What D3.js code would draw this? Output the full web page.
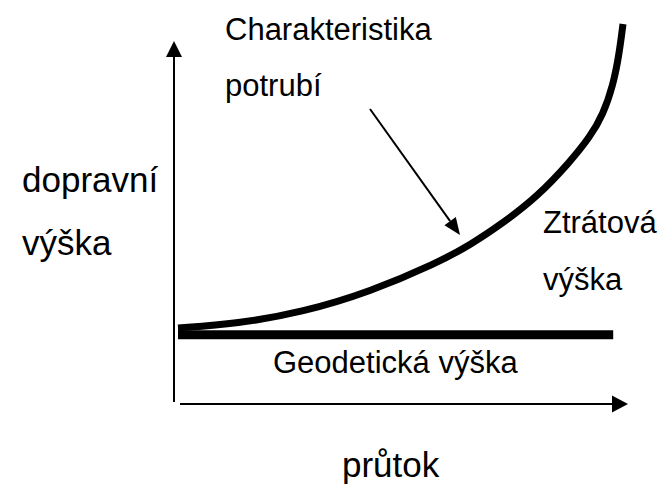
<!DOCTYPE html>
<html>
<head>
<meta charset="utf-8">
<script src="https://cdn.jsdelivr.net/npm/d3@7"></script>
<style>
  html, body { margin: 0; padding: 0; background: #fff; }
  svg { display: block; }
  text { font-family: "Liberation Sans", Arial, sans-serif; fill: #000; }
</style>
</head>
<body>
<script>
// Pipe characteristic: flow (průtok) vs. pumping head (dopravní výška)
const flow = [0, 13.3, 28.1, 43.1, 58.2, 65.6, 73.0, 80.7, 88.1, 92.6, 95.5, 97.8, 99.1, 100];
const head = [20.0, 21.1, 24.2, 29.5, 37.1, 41.8, 47.6, 54.5, 63.7, 70.3, 76.1, 84.0, 91.8, 100];

// Static (geodetic) head, constant over the flow range
const geoFlow = [0, 97.8];
const geoHead = 18.2;

const labels = {
  curve: ["Charakteristika", "potrubí"],
  yAxis: ["dopravní", "výška"],
  loss: ["Ztrátová", "výška"],
  geo: "Geodetická výška",
  xAxis: "průtok"
};

const W = 664, H = 489;
const svg = d3.select("body").append("svg").attr("width", W).attr("height", H);

const x = d3.scaleLinear().domain([0, 100]).range([178, 623]);
const y = d3.scaleLinear().domain([0, 100]).range([404, 24]);

// Axes as plain arrows (no ticks)
const axisX0 = 174;   // vertical axis position
const axisY0 = 404;   // horizontal axis position

svg.append("line")
  .attr("x1", axisX0).attr("y1", 402)
  .attr("x2", axisX0).attr("y2", 54)
  .attr("stroke", "#000").attr("stroke-width", 2);
svg.append("path")
  .attr("d", `M${axisX0},41 L${axisX0 - 8},57 L${axisX0 + 8},57 Z`)
  .attr("fill", "#000");

svg.append("line")
  .attr("x1", 180).attr("y1", axisY0)
  .attr("x2", 614).attr("y2", axisY0)
  .attr("stroke", "#000").attr("stroke-width", 2);
svg.append("path")
  .attr("d", `M628,${axisY0} L612,${axisY0 - 8.5} L612,${axisY0 + 8.5} Z`)
  .attr("fill", "#000");

// Geodetic head line
svg.append("line")
  .attr("x1", x(geoFlow[0])).attr("y1", y(geoHead))
  .attr("x2", x(geoFlow[1])).attr("y2", y(geoHead))
  .attr("stroke", "#000").attr("stroke-width", 9);

// Pipe characteristic curve
const pts = flow.map((q, i) => [q, head[i]]);
svg.append("path")
  .datum(pts)
  .attr("d", d3.line().x(d => x(d[0])).y(d => y(d[1])).curve(d3.curveBasis))
  .attr("fill", "none")
  .attr("stroke", "#000")
  .attr("stroke-width", 7);

// Pointer from the label to the curve
const p0 = [370, 109], p1 = [460, 235];
const ang = Math.atan2(p1[1] - p0[1], p1[0] - p0[0]);
const aL = 17, aW = 7;
const bx = p1[0] - aL * Math.cos(ang), by = p1[1] - aL * Math.sin(ang);
svg.append("line")
  .attr("x1", p0[0]).attr("y1", p0[1]).attr("x2", bx).attr("y2", by)
  .attr("stroke", "#000").attr("stroke-width", 2);
svg.append("path")
  .attr("d", `M${p1[0]},${p1[1]} L${bx + aW * Math.sin(ang)},${by - aW * Math.cos(ang)} L${bx - aW * Math.sin(ang)},${by + aW * Math.cos(ang)} Z`)
  .attr("fill", "#000");

// Labels
function txt(s, tx, ty, fs) {
  svg.append("text").attr("x", tx).attr("y", ty).attr("font-size", fs).text(s);
}
txt(labels.curve[0], 225, 40, 31);
txt(labels.curve[1], 225, 96, 31);
txt(labels.yAxis[0], 22, 192, 35);
txt(labels.yAxis[1], 22, 255, 35);
txt(labels.loss[0], 543, 233, 31);
txt(labels.loss[1], 543, 290, 31);
txt(labels.geo, 273, 373, 31);
txt(labels.xAxis, 342, 477, 35);
</script>
</body>
</html>
